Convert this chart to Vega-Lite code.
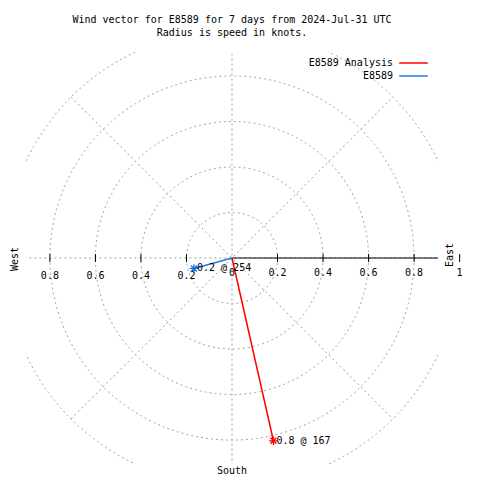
{
  "$schema": "https://vega.github.io/schema/vega-lite/v6.json",
  "autosize": {"type": "none"},
  "padding": {"left": 26, "top": 52, "right": 42, "bottom": 16},
  "width": 412,
  "height": 412,
  "background": "white",
  "config": {"view": {"stroke": null}, "font": "DejaVu Sans Mono"},
  "title": {
    "text": ["Wind vector for E8589 for 7 days from 2024-Jul-31 UTC", "Radius is speed in knots."],
    "font": "DejaVu Sans Mono",
    "fontSize": 10,
    "fontWeight": "normal",
    "color": "black",
    "anchor": "middle",
    "offset": 14,
    "lineHeight": 13
  },
  "data": {"name": "anchor", "values": [{"a": 1}]},
  "datasets": {
    "rings": [{"r": 0.2}, {"r": 0.4}, {"r": 0.6}, {"r": 0.8}, {"r": 1.0}],
    "spokes": [
      {"x1": -1, "y1": 0, "x2": 1, "y2": 0},
      {"x1": 0, "y1": -1, "x2": 0, "y2": 1},
      {"x1": -0.7071, "y1": -0.7071, "x2": 0.7071, "y2": 0.7071},
      {"x1": -0.7071, "y1": 0.7071, "x2": 0.7071, "y2": -0.7071}
    ],
    "ticks": [
      {"t": -0.8, "lab": "0.8"}, {"t": -0.6, "lab": "0.6"}, {"t": -0.4, "lab": "0.4"}, {"t": -0.2, "lab": "0.2"},
      {"t": 0.2, "lab": "0.2"}, {"t": 0.4, "lab": "0.4"}, {"t": 0.6, "lab": "0.6"}, {"t": 0.8, "lab": "0.8"},
      {"t": 1.0, "lab": "1"}
    ],
    "ticklabels": [
      {"t": -0.8, "lab": "0.8"}, {"t": -0.6, "lab": "0.6"}, {"t": -0.4, "lab": "0.4"}, {"t": -0.2, "lab": "0.2"},
      {"t": 0, "lab": "0"},
      {"t": 0.2, "lab": "0.2"}, {"t": 0.4, "lab": "0.4"}, {"t": 0.6, "lab": "0.6"}, {"t": 0.8, "lab": "0.8"},
      {"t": 1.0, "lab": "1"}
    ],
    "vectors": [
      {"series": "E8589 Analysis", "u": 0.182, "v": -0.803, "label": "0.8 @ 167"},
      {"series": "E8589", "u": -0.167, "v": -0.046, "label": "0.2 @ 254"}
    ]
  },
  "layer": [
    {
      "data": {"name": "rings"},
      "mark": {"type": "point", "shape": "circle", "filled": false, "color": "#a0a0a0", "strokeWidth": 1, "strokeDash": [2, 3], "opacity": 1, "clip": true},
      "encoding": {
        "x": {"datum": 0, "type": "quantitative", "scale": {"domain": [-0.905, 0.905], "nice": false, "zero": false}, "axis": null},
        "y": {"datum": 0, "type": "quantitative", "scale": {"domain": [-0.905, 0.905], "nice": false, "zero": false}, "axis": null},
        "size": {"field": "r", "type": "quantitative", "scale": {"type": "pow", "exponent": 2, "domain": [0, 1], "range": [0, 207207]}, "legend": null}
      }
    },
    {
      "data": {"name": "spokes"},
      "mark": {"type": "rule", "color": "#a0a0a0", "strokeWidth": 1, "strokeDash": [2, 3], "clip": true},
      "encoding": {
        "x": {"field": "x1", "type": "quantitative"},
        "y": {"field": "y1", "type": "quantitative"},
        "x2": {"field": "x2"},
        "y2": {"field": "y2"}
      }
    },
    {
      "data": {"name": "rings"},
      "transform": [{"filter": "datum.r == 1"}],
      "mark": {"type": "rule", "color": "black", "strokeWidth": 1, "clip": true},
      "encoding": {
        "x": {"field": "r", "type": "quantitative"},
        "x2": {"datum": 0},
        "y": {"datum": 0, "type": "quantitative"}
      }
    },
    {
      "data": {"name": "ticks"},
      "mark": {"type": "tick", "orient": "vertical", "color": "black", "size": 8, "thickness": 1, "opacity": 1},
      "encoding": {
        "x": {"field": "t", "type": "quantitative"},
        "y": {"datum": 0, "type": "quantitative"}
      }
    },
    {
      "data": {"name": "ticklabels"},
      "transform": [{"filter": "datum.t < 0"}],
      "mark": {"type": "text", "font": "DejaVu Sans Mono", "fontSize": 10, "color": "black", "align": "center", "baseline": "middle", "dy": 18},
      "encoding": {
        "x": {"field": "t", "type": "quantitative"},
        "y": {"datum": 0, "type": "quantitative"},
        "text": {"field": "lab"}
      }
    },
    {
      "data": {"name": "ticklabels"},
      "transform": [{"filter": "datum.t >= 0"}],
      "mark": {"type": "text", "font": "DejaVu Sans Mono", "fontSize": 10, "color": "black", "align": "center", "baseline": "middle", "dy": 15},
      "encoding": {
        "x": {"field": "t", "type": "quantitative"},
        "y": {"datum": 0, "type": "quantitative"},
        "text": {"field": "lab"}
      }
    },
    {
      "data": {"name": "vectors"},
      "mark": {"type": "rule", "strokeWidth": 1.5},
      "encoding": {
        "x": {"field": "u", "type": "quantitative"},
        "y": {"field": "v", "type": "quantitative"},
        "x2": {"datum": 0},
        "y2": {"datum": 0},
        "color": {
          "field": "series", "type": "nominal",
          "scale": {"domain": ["E8589 Analysis", "E8589"], "range": ["#ff0000", "#1f77e0"]},
          "legend": {
            "title": null,
            "orient": "none",
            "legendX": 380,
            "legendY": 3.5,
            "padding": 0,
            "rowPadding": 0,
            "labelAlign": "right",
            "labelOffset": -28,
            "labelFont": "DejaVu Sans Mono",
            "labelFontSize": 10,
            "labelColor": "black",
            "labelLimit": 400,
            "symbolType": "M-2.2,0H2.2",
            "symbolSize": 169,
            "symbolStrokeWidth": 1.5
          }
        }
      }
    },
    {
      "data": {"name": "vectors"},
      "mark": {"type": "point", "shape": "M-1,0L1,0M0,-1L0,1M-0.7,-0.7L0.7,0.7M-0.7,0.7L0.7,-0.7", "filled": false, "size": 72, "strokeWidth": 1.3, "opacity": 1},
      "encoding": {
        "x": {"field": "u", "type": "quantitative"},
        "y": {"field": "v", "type": "quantitative"},
        "color": {"field": "series", "type": "nominal"}
      }
    },
    {
      "data": {"name": "vectors"},
      "mark": {"type": "text", "font": "DejaVu Sans Mono", "fontSize": 10, "color": "black", "align": "left", "baseline": "middle", "dx": 3},
      "encoding": {
        "x": {"field": "u", "type": "quantitative"},
        "y": {"field": "v", "type": "quantitative"},
        "text": {"field": "label"}
      }
    },
    {
      "mark": {"type": "text", "font": "DejaVu Sans Mono", "fontSize": 10, "color": "black", "align": "center", "baseline": "middle", "angle": 270},
      "encoding": {
        "x": {"datum": -0.953, "type": "quantitative"},
        "y": {"datum": -0.004, "type": "quantitative"},
        "text": {"value": "West"}
      }
    },
    {
      "mark": {"type": "text", "font": "DejaVu Sans Mono", "fontSize": 10, "color": "black", "align": "center", "baseline": "middle", "angle": 270},
      "encoding": {
        "x": {"datum": 0.958, "type": "quantitative"},
        "y": {"datum": 0.013, "type": "quantitative"},
        "text": {"value": "East"}
      }
    },
    {
      "mark": {"type": "text", "font": "DejaVu Sans Mono", "fontSize": 10, "color": "black", "align": "center", "baseline": "middle"},
      "encoding": {
        "x": {"datum": 0, "type": "quantitative"},
        "y": {"datum": -0.936, "type": "quantitative"},
        "text": {"value": "South"}
      }
    }
  ]
}
